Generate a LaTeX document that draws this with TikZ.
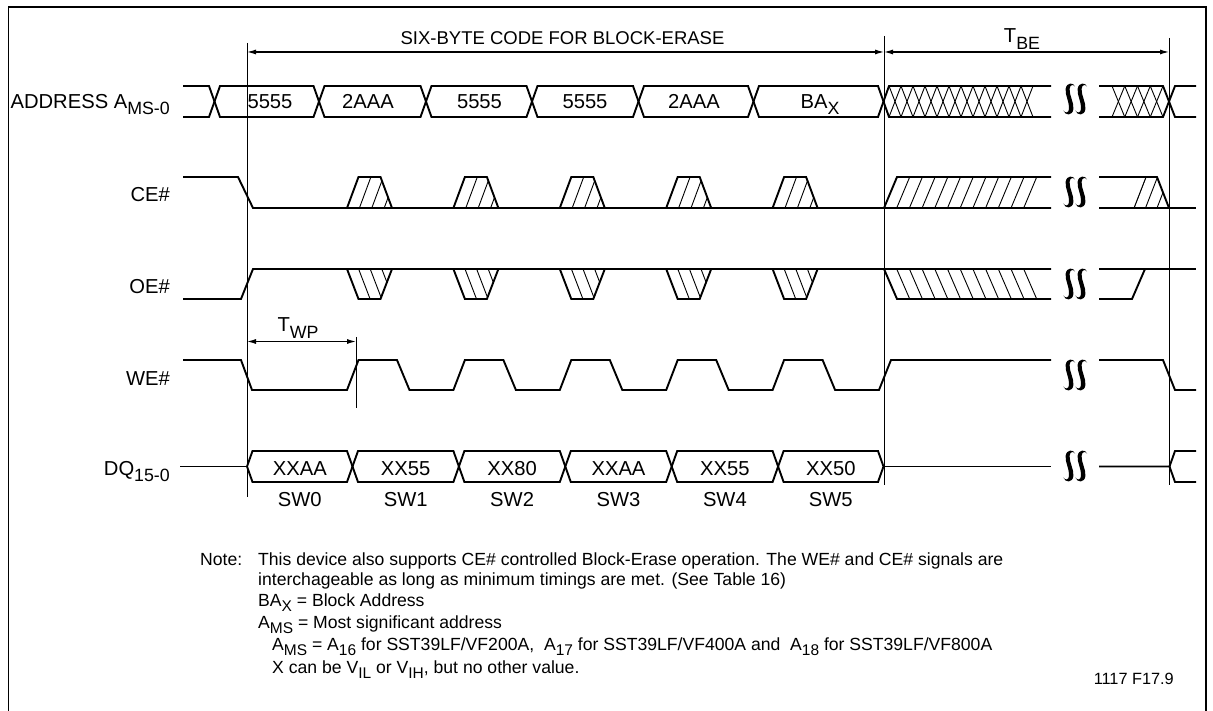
\documentclass[tikz,border=0pt]{standalone}
\usepackage{fontspec}
\setmainfont{Liberation Sans}
\usepackage{graphicx}
\usetikzlibrary{arrows.meta,calc}
\newcommand{\sbs}[1]{\raisebox{-0.3em}{\scalebox{0.88}{#1}}}
\begin{document}
\begin{tikzpicture}[x=1pt,y=-1pt,
  sig/.style={line width=1.9pt, line join=miter},
  thinline/.style={line width=1pt},
  hatch/.style={line width=0.9pt},
  dim/.style={line width=1.1pt, {Latex[length=9pt,width=5pt]}-{Latex[length=9pt,width=5pt]}},
  lbl/.style={font=\fontsize{20.2}{23}\selectfont, inner sep=0pt},
  hdr/.style={font=\fontsize{18.5}{22}\selectfont, inner sep=0pt},
  note/.style={font=\fontsize{17.6}{20}\selectfont, inner sep=0pt, anchor=base west},
  brk/.pic={\fill (12,3.5) .. controls (10.5,-0.8) and (3.5,-0.8) .. (2.6,6) .. controls (2.1,13) and (6.6,19) .. (6,26) .. controls (5.6,30) and (2.5,30.5) .. (0.3,27.5) .. controls (2.3,33) and (9.6,33) .. (10.4,26) .. controls (11,19) and (6.3,13) .. (6.6,6) .. controls (6.9,1.6) and (10,1) .. (12,3.5) -- cycle;}
]
\useasboundingbox (0,0) rectangle (1213,711);
\begin{scope}
  \clip (0,0) rectangle (1213,711);
  \draw[line width=1.3pt] (8.5,7) rectangle (1206,730);
\end{scope}

% reference lines
\coordinate (v1t) at (247,43);   \coordinate (v1b) at (247,497);
\coordinate (v2t) at (884,36);   \coordinate (v2b) at (884,485);
\coordinate (v3t) at (1169,38);  \coordinate (v3b) at (1169,485);
\coordinate (v4t) at (356,337);  \coordinate (v4b) at (356,408);
\draw[thinline] (v1t) -- (v1b);
\draw[thinline] (v2t) -- (v2b);
\draw[thinline] (v3t) -- (v3b);
\draw[thinline] (v4t) -- (v4b);

% dimension arrows
\coordinate (a1l) at (247,52); \coordinate (a1r) at (884,52); \coordinate (a2r) at (1169,52);
\coordinate (twl) at (247,341.5); \coordinate (twr) at (356,341.5);
\draw[dim] (a1l) -- (a1r);
\draw[dim] (a1r) -- (a2r);
\draw[dim] (twl) -- (twr);
\node[hdr, anchor=base] (hsix) at (562.5,45) {SIX-BYTE CODE FOR BLOCK-ERASE};
\node[lbl, anchor=base] (htbe) at (1022,43) {T\sbs{BE}};
\node[lbl, anchor=base] (htwp) at (298,332) {T\sbs{WP}};

% ---------------- ADDRESS ----------------
\def\AT{86}\def\AB{117}\def\AM{101.5}
\draw[sig] (183,\AT) -- (209,\AT) -- (214.5,\AM) -- (209,\AB) -- (183,\AB);
\foreach \l/\r in {214.5/319, 319/426, 426/532, 532/638.5, 638.5/753.5, 753.5/883.5}{
  \draw[sig] (\l,\AM) -- ({\l+5.5},\AT) -- ({\r-5.5},\AT) -- (\r,\AM) -- ({\r-5.5},\AB) -- ({\l+5.5},\AB) -- cycle;
}
\draw[sig] (1051,\AT) -- (889,\AT) -- (883.5,\AM) -- (889,\AB) -- (1051,\AB);
\foreach \k in {0,...,11}{
  \draw[hatch] ({889+12*\k},\AT) -- ({901+12*\k},\AB);
  \draw[hatch] ({889+12*\k},\AB) -- ({901+12*\k},\AT);
}
\draw[sig] (1099,\AT) -- (1163,\AT) -- (1169,\AM) -- (1175,\AB) -- (1196,\AB);
\draw[sig] (1099,\AB) -- (1163,\AB) -- (1169,\AM) -- (1175,\AT) -- (1196,\AT);
\foreach \k in {0,...,3}{
  \draw[hatch] ({1112+12.75*\k},\AT) -- ({1124.75+12.75*\k},\AB);
  \draw[hatch] ({1112+12.75*\k},\AB) -- ({1124.75+12.75*\k},\AT);
}
\node[lbl, anchor=base] (d1) at (270,108.5) {5555};
\node[lbl, anchor=base] (d2) at (368,108.5) {2AAA};
\node[lbl, anchor=base] (d3) at (479.5,108.5) {5555};
\node[lbl, anchor=base] (d4) at (585,108.5) {5555};
\node[lbl, anchor=base] (d5) at (694,108.5) {2AAA};
\node[lbl, anchor=base] (d6) at (820,108.5) {BA\sbs{X}};

% ---------------- CE# ----------------
\draw[sig] (183,177) -- (238,177) -- (253,208) -- (1051,208);
\foreach \k in {0,...,4}{
  \pgfmathsetmacro{\xo}{347+106.4*\k}
  \begin{scope}
    \clip (\xo,208) -- ++(11.5,-31) -- ++(22,0) -- ++(11.5,31) -- cycle;
    \foreach \j in {1,2,3} \draw[hatch] ({\xo+12.4*\j},208) -- ++(11.5,-31);
  \end{scope}
  \draw[sig] (\xo,208) -- ++(11.5,-31) -- ++(22,0) -- ++(11.5,31);
  \begin{scope}
    \clip (\xo,269) -- ++(11.5,30) -- ++(22,0) -- ++(11.5,-30) -- cycle;
    \foreach \j in {1,2,3} \draw[hatch] ({\xo+11.6*\j},269) -- ++(11.5,30);
  \end{scope}
  \draw[sig] (\xo,269) -- ++(11.5,30) -- ++(22,0) -- ++(11.5,-30);
}
\draw[sig] (884,208) -- (897,177) -- (1051,177);
\foreach \k in {1,...,11} \draw[hatch] ({884+12.7*\k},208) -- ++(13,-31);
\begin{scope}
  \clip (1134,208) -- (1146,177) -- (1157,177) -- (1169,208) -- cycle;
  \foreach \j in {0,1,2} \draw[hatch] ({1134+11.5*\j},208) -- ++(12,-31);
\end{scope}
\draw[hatch] (1134,208) -- (1146,177);
\draw[sig] (1099,177) -- (1157,177) -- (1169,208);
\draw[sig] (1099,208) -- (1196,208);

% ---------------- OE# ----------------
\draw[sig] (183,299) -- (241,299) -- (253,269) -- (1051,269);
\draw[sig] (884,269) -- (897,299) -- (1051,299);
\foreach \k in {1,...,11} \draw[hatch] ({884+12.7*\k},269) -- ++(13,30);
\draw[sig] (1099,269) -- (1196,269);
\draw[sig] (1099,299) -- (1132,299) -- (1145,269);

% ---------------- WE# ----------------
\draw[sig] (183,360) -- (241,360) -- (252,390)
  \foreach \k in {0,...,4}{ -- ({347+106.4*\k},390) -- ({358.5+106.4*\k},360) -- ({397+106.4*\k},360) -- ({409.5+106.4*\k},390) }
  -- (879,390) -- (891,360) -- (1051,360);
\draw[sig] (1099,360) -- (1163,360) -- (1175,390) -- (1196,390);

% ---------------- DQ ----------------
\def\DT{451}\def\DB{482}\def\DM{466.5}
\draw[sig] (180,\DM) -- (247,\DM);
\foreach \l/\r in {247/352.5, 352.5/458.9, 458.9/565.3, 565.3/671.7, 671.7/778.1, 778.1/883.5}{
  \draw[sig] (\l,\DM) -- ({\l+5.5},\DT) -- ({\r-5.5},\DT) -- (\r,\DM) -- ({\r-5.5},\DB) -- ({\l+5.5},\DB) -- cycle;
}
\draw[sig] (883.5,\DM) -- (1051,\DM);
\draw[sig] (1099,\DM) -- (1169.5,\DM) -- (1175,\DT) -- (1196,\DT);
\draw[sig] (1169.5,\DM) -- (1175,\DB) -- (1196,\DB);
\foreach \x/\t/\s [count=\i] in {299.8/XXAA/SW0, 405.7/XX55/SW1, 512.1/XX80/SW2, 618.5/XXAA/SW3, 724.9/XX55/SW4, 830.8/XX50/SW5}{
  \node[lbl, anchor=base] (q\i) at (\x,475) {\t};
  \node[lbl, anchor=base] (sw\i) at (\x,506) {\s};
}

% break symbols
\foreach \y in {83,176,268,359,450}{
  \pic at (1063,\y) {brk};
  \pic at (1075,\y) {brk};
}

% row labels
\node[lbl, anchor=base east] (laddr) at (170,108.5) {ADDRESS A\sbs{MS-0}};
\node[lbl, anchor=base east] (lce) at (170,201.5) {CE\#};
\node[lbl, anchor=base east] (loe) at (170,293.5) {OE\#};
\node[lbl, anchor=base east] (lwe) at (170,385) {WE\#};
\node[lbl, anchor=base east] (ldq) at (170,475) {DQ\sbs{15-0}};

% notes
\node[note] (n0) at (200,565) {Note:};
\node[note] (n1) at (258,565) {This device also supports CE\# controlled Block-Erase operation. The WE\# and CE\# signals are};
\node[note] (n2) at (258,585) {interchageable as long as minimum timings are met. (See Table 16)};
\node[note] (n3) at (258,606) {BA\sbs{X} = Block Address};
\node[note] (n4) at (258,628) {A\sbs{MS} = Most significant address};
\node[note] (n5) at (272,650) {A\sbs{MS} = A\sbs{16} for SST39LF/VF200A,\ \ A\sbs{17} for SST39LF/VF400A and\ \ A\sbs{18} for SST39LF/VF800A};
\node[note] (n6) at (272,673) {X can be V\sbs{IL} or V\sbs{IH}, but no other value.};
\node[font=\fontsize{16.3}{19}\selectfont, inner sep=0pt, anchor=base east] (fig) at (1174,684) {1117 F17.9};
\end{tikzpicture}
\end{document}
